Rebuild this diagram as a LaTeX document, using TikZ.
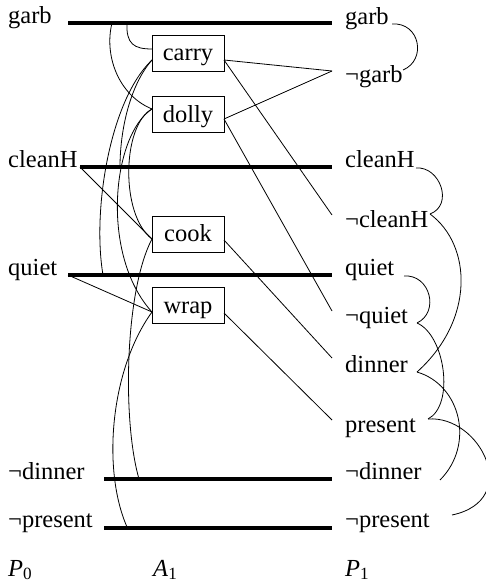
\documentclass[tikz,border=0pt]{standalone}
\usepackage{fontspec}
\setmainfont{Liberation Serif}
\begin{document}
\begin{tikzpicture}[x=1pt,y=-1pt,
  lbl/.style={anchor=base west,inner sep=0pt,font=\fontsize{24.5}{29}\selectfont},
  act/.style={draw,line width=0.8pt,minimum width=72pt,minimum height=36pt,inner sep=0pt,
    text height=15pt,text depth=0pt,font=\fontsize{24.5}{29}\selectfont},
  bar/.style={line width=4.8pt},
  link/.style={line width=0.8pt}]
\useasboundingbox (0,0) rectangle (486,583);
% left labels
\node[lbl] (Lgarb) at (8,24) {garb};
\node[lbl] (LcleanH) at (8,167) {cleanH};
\node[lbl] (Lquiet) at (8,275) {quiet};
\node[lbl] (Lndinner) at (8,479) {¬dinner};
\node[lbl] (Lnpresent) at (8,527) {¬present};
\node[lbl] (P0) at (8,576) {\textit{P}\textsubscript{0}};
\node[lbl] (A1) at (153,576) {\textit{A}\textsubscript{1}};
\node[lbl] (P1) at (345,576) {\textit{P}\textsubscript{1}};
% right labels
\node[lbl] (Rgarb) at (345,25) {garb};
\node[lbl] (Rngarb) at (345,83) {¬garb};
\node[lbl] (RcleanH) at (345,167) {cleanH};
\node[lbl] (RncleanH) at (345,227) {¬cleanH};
\node[lbl] (Rquiet) at (345,275) {quiet};
\node[lbl] (Rnquiet) at (345,323) {¬quiet};
\node[lbl] (Rdinner) at (345,372) {dinner};
\node[lbl] (Rpresent) at (345,432) {present};
\node[lbl] (Rndinner) at (345,479) {¬dinner};
\node[lbl] (Rnpresent) at (345,527) {¬present};
% action boxes
\node[act] (carry) at (188,53.5) {carry};
\node[act] (dolly) at (188,114.5) {dolly};
\node[act] (cook) at (188,234) {cook};
\node[act] (wrap) at (188,305.5) {wrap};
% connection points
\coordinate (garbL) at (68,23);   \coordinate (garbR) at (332,23);
\coordinate (cleanHL) at (80,167); \coordinate (cleanHR) at (332,167);
\coordinate (quietL) at (68,275); \coordinate (quietR) at (332,275);
\coordinate (ndinnerL) at (104,479); \coordinate (ndinnerR) at (332,479);
\coordinate (npresentL) at (104,528); \coordinate (npresentR) at (332,528);
\coordinate (carryR) at (224,60); \coordinate (carryL) at (152,60); \coordinate (carryT) at (152,49);
\coordinate (dollyR) at (224,119); \coordinate (dollyL) at (152,109);
\coordinate (cookR) at (224,240); \coordinate (cookL) at (152,239);
\coordinate (wrapR) at (224,313); \coordinate (wrapL) at (152,312);
\coordinate (ngarbP) at (332,71); \coordinate (ncleanHP) at (332,215);
\coordinate (nquietP) at (332,311); \coordinate (dinnerP) at (332,358);
\coordinate (presentP) at (332,420);
% no-op bars
\draw[bar] (garbL) -- (garbR);
\draw[bar] (cleanHL) -- (cleanHR);
\draw[bar] (quietL) -- (quietR);
\draw[bar] (ndinnerL) -- (ndinnerR);
\draw[bar] (npresentL) -- (npresentR);
% preconditions and effects
\draw[link] (cleanHL) -- (cookL);
\draw[link] (quietL) -- (wrapL);
\draw[link] (carryR) -- (ngarbP);
\draw[link] (carryR) -- (ncleanHP);
\draw[link] (dollyR) -- (ngarbP);
\draw[link] (dollyR) -- (nquietP);
\draw[link] (cookR) -- (dinnerP);
\draw[link] (wrapR) -- (presentP);
% action mutex arcs
\coordinate (g1) at (127,23); \coordinate (g2) at (112,23);
\coordinate (c1) at (120,167); \coordinate (q1) at (103,275);
\coordinate (d1) at (139,479); \coordinate (p1) at (127,527);
\draw[link] (g1) .. controls (126,44) and (134,49) .. (carryT);
\draw[link] (g2) .. controls (104,55) and (118,95) .. (dollyL);
\draw[link] (carryL) .. controls (110,100) and (92,210) .. (q1);
\draw[link] (carryL) .. controls (130,85) and (120,130) .. (c1);
\draw[link] (dollyL) .. controls (112,135) and (100,255) .. (wrapL);
\draw[link] (dollyL) .. controls (122,125) and (120,215) .. (cookL);
\draw[link] (cookL) .. controls (125,290) and (122,420) .. (d1);
\draw[link] (wrapL) .. controls (110,370) and (102,470) .. (p1);
% proposition mutex arcs
\coordinate (garbE) at (392,24); \coordinate (ngarbE) at (403,70);
\coordinate (cleanHE) at (416,168); \coordinate (ncleanHE) at (430,214);
\coordinate (quietE) at (404,276); \coordinate (nquietE) at (417,323);
\coordinate (dinnerE) at (417,372); \coordinate (presentE) at (428,419);
\coordinate (ndinnerE) at (440,480); \coordinate (npresentE) at (452,515);
\draw[link] (garbE) .. controls (420,22) and (427,60) .. (ngarbE);
\draw[link] (cleanHE) .. controls (440,166) and (454,205) .. (ncleanHE);
\draw[link] (ncleanHE) .. controls (472,245) and (475,320) .. (dinnerE);
\draw[link] (quietE) .. controls (430,274) and (440,312) .. (nquietE);
\draw[link] (nquietE) .. controls (445,335) and (455,405) .. (presentE);
\draw[link] (dinnerE) .. controls (461,385) and (475,445) .. (ndinnerE);
\draw[link] (presentE) .. controls (480,415) and (523,500) .. (npresentE);
\end{tikzpicture}
\end{document}
